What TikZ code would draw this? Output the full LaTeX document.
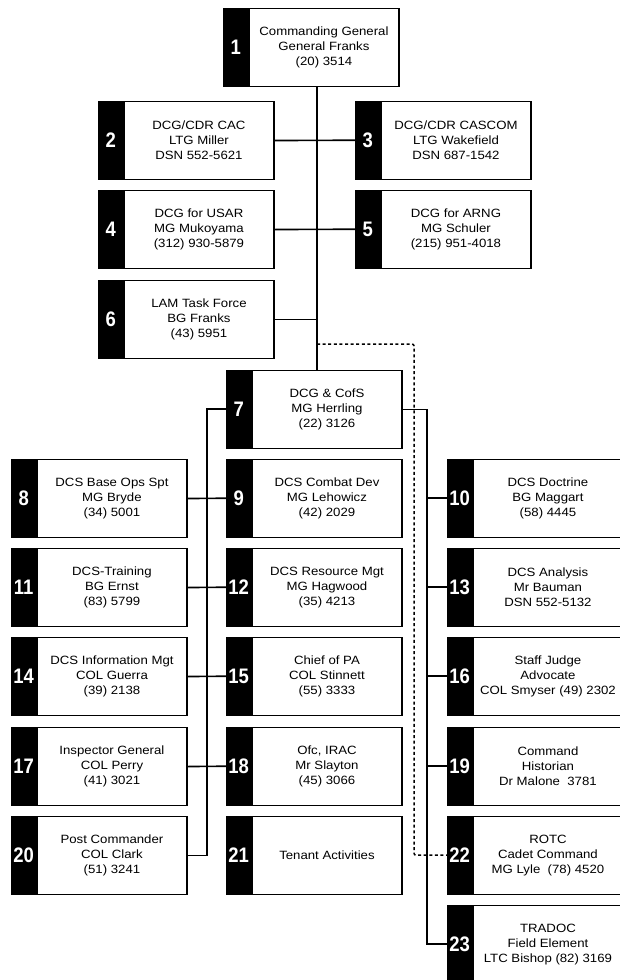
\documentclass[tikz,border=0pt]{standalone}
\usepackage{fontspec}
\setmainfont{Liberation Sans}[FakeStretch=1.1]
\newfontfamily\numfont{Liberation Sans}[FakeStretch=0.88]
\newcommand\orgitem[5]{%
  \node[tabbox] (t#1) at (#2,#3) {#4};
  \node[wbox] (b#1) at (t#1.north east) {#5};
}
\begin{document}
\begin{tikzpicture}[x=1pt,y=-1pt,
  tabbox/.style={draw=black,fill=black,text=white,font=\numfont\bfseries\fontsize{21}{21}\selectfont,
    minimum width=25pt,minimum height=78pt,inner sep=0pt,anchor=north west},
  wbox/.style={draw=black,fill=white,line width=1.1pt,minimum width=150pt,minimum height=78pt,
    inner sep=0pt,align=center,anchor=north west,font=\fontsize{12}{15}\selectfont},
  conn/.style={draw=black,line width=1.6pt},
  dashline/.style={draw=black,line width=1.5pt,dash pattern=on 3pt off 2.6pt,rounded corners=2pt}]
\useasboundingbox[fill=white] (0,0) rectangle (619,980);

\coordinate (trunk) at (317,0);
\coordinate (lbus) at (207,0);
\coordinate (rbus) at (427,0);
\coordinate (dbus) at (414,0);
\coordinate (dstart) at (317,344);

\orgitem{1}{223}{8}{1}{Commanding General\\General Franks\\(20) 3514}
\orgitem{2}{98}{101}{2}{DCG/CDR CAC\\LTG Miller\\DSN 552-5621}
\orgitem{3}{355}{101}{3}{DCG/CDR CASCOM\\LTG Wakefield\\DSN 687-1542}
\orgitem{4}{98}{190}{4}{DCG for USAR\\MG Mukoyama\\(312) 930-5879}
\orgitem{5}{355}{190}{5}{DCG for ARNG\\MG Schuler\\(215) 951-4018}
\orgitem{6}{98}{280}{6}{LAM Task Force\\BG Franks\\(43) 5951}
\orgitem{7}{226}{370}{7}{DCG \& CofS\\MG Herrling\\(22) 3126}

\orgitem{8}{11}{459}{8}{DCS Base Ops Spt\\MG Bryde\\(34) 5001}
\orgitem{9}{226}{459}{9}{DCS Combat Dev\\MG Lehowicz\\(42) 2029}
\orgitem{10}{447}{459}{10}{DCS Doctrine\\BG Maggart\\(58) 4445}

\orgitem{11}{11}{548}{11}{DCS-Training\\BG Ernst\\(83) 5799}
\orgitem{12}{226}{548}{12}{DCS Resource Mgt\\MG Hagwood\\(35) 4213}
\orgitem{13}{447}{548}{13}{DCS Analysis\\Mr Bauman\\DSN 552-5132}

\orgitem{14}{11}{637}{14}{DCS Information Mgt\\COL Guerra\\(39) 2138}
\orgitem{15}{226}{637}{15}{Chief of PA\\COL Stinnett\\(55) 3333}
\orgitem{16}{447}{637}{16}{Staff Judge\\Advocate\\COL Smyser (49) 2302}

\orgitem{17}{11}{727}{17}{Inspector General\\COL Perry\\(41) 3021}
\orgitem{18}{226}{727}{18}{Ofc, IRAC\\Mr Slayton\\(45) 3066}
\orgitem{19}{447}{727}{19}{Command\\Historian\\Dr Malone\ \ 3781}

\orgitem{20}{11}{816}{20}{Post Commander\\COL Clark\\(51) 3241}
\orgitem{21}{226}{816}{21}{Tenant Activities}
\orgitem{22}{447}{816}{22}{ROTC\\Cadet Command\\MG Lyle\ \ (78) 4520}

\orgitem{23}{447}{905}{23}{TRADOC\\Field Element\\LTC Bishop (82) 3169}

% connectors
\draw[conn] (b1.south -| trunk) -- (b7.north -| trunk);
\draw[conn] (b2.east) -- (t3.west);
\draw[conn] (b4.east) -- (t5.west);
\draw[conn] (b6.east) -- (b6.east -| trunk);
\draw[dashline] (dstart) -- (dstart -| dbus) -- (dbus |- t22.west) -- (t22.west);
\draw[conn] (t7.west) -- (t7.west -| lbus) -- (lbus |- b20.east) -- (b20.east);
\foreach \a/\b in {8/9,11/12,14/15,17/18} \draw[conn] (b\a.east) -- (t\b.west);
\draw[conn] (b7.east) -- (b7.east -| rbus) -- (rbus |- t23.west) -- (t23.west);
\foreach \n in {10,13,16,19} \draw[conn] (rbus |- t\n.west) -- (t\n.west);
\end{tikzpicture}
\end{document}
